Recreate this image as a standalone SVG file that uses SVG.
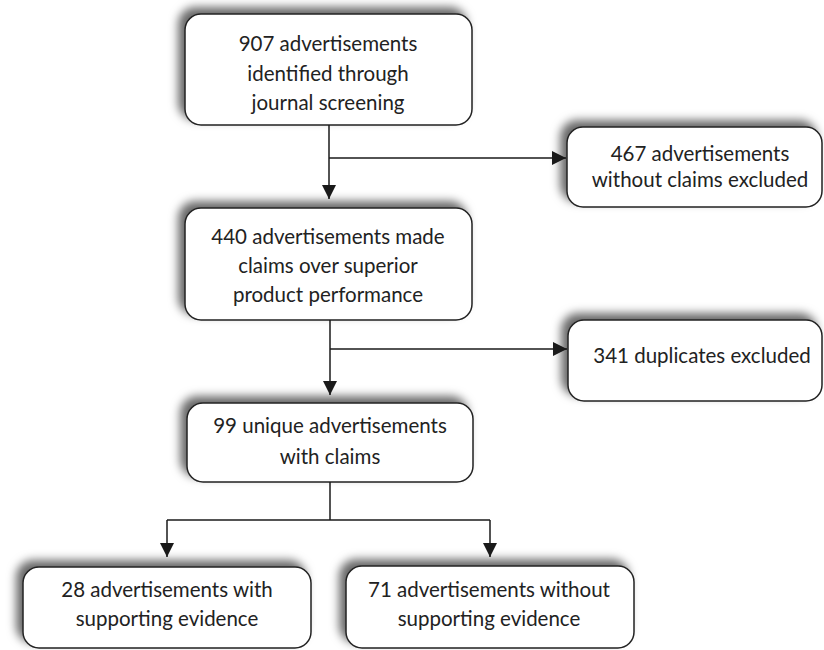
<svg xmlns="http://www.w3.org/2000/svg" width="824" height="650" viewBox="0 0 824 650">
<defs>
<filter id="sh" x="-20%" y="-30%" width="140%" height="160%">
<feDropShadow dx="-6" dy="-6" stdDeviation="5" flood-color="#000" flood-opacity="0.6"/>
</filter>
<marker id="ah" viewBox="0 0 14 14" refX="14" refY="7" markerWidth="14" markerHeight="14" markerUnits="userSpaceOnUse" orient="auto">
<path d="M0,0 L14,7 L0,14 z" fill="#1a1a1a"/>
</marker>
</defs>
<style>
.box{fill:#fff;stroke:#222;stroke-width:1.5;filter:url(#sh)}
.t{font-family:Lato,"Open Sans","Liberation Sans",sans-serif;font-size:20.5px;fill:#222;text-anchor:middle}
.c{fill:none;stroke:#1a1a1a;stroke-width:1.5}
</style>
<rect width="824" height="650" fill="#fff"/>
<g id="n1"><rect class="box" x="185" y="14" width="287" height="111" rx="16"/>
<text class="t" x="328" y="51">907 advertisements</text>
<text class="t" x="328" y="81">identified through</text>
<text class="t" x="328" y="110">journal screening</text></g>
<g id="n2"><rect class="box" x="567" y="127" width="255" height="80" rx="16"/>
<text class="t" x="700" y="161">467 advertisements</text>
<text class="t" x="700" y="187">without claims excluded</text></g>
<g id="n3"><rect class="box" x="185" y="208" width="287" height="112" rx="16"/>
<text class="t" x="328" y="244">440 advertisements made</text>
<text class="t" x="328" y="273">claims over superior</text>
<text class="t" x="328" y="302">product performance</text></g>
<g id="n4"><rect class="box" x="568" y="320" width="254" height="81" rx="16"/>
<text class="t" x="702" y="363">341 duplicates excluded</text></g>
<g id="n5"><rect class="box" x="187" y="403" width="286" height="79" rx="16"/>
<text class="t" x="330" y="433">99 unique advertisements</text>
<text class="t" x="330" y="464">with claims</text></g>
<g id="n6"><rect class="box" x="23" y="567" width="288" height="81" rx="16"/>
<text class="t" x="167" y="597">28 advertisements with</text>
<text class="t" x="167" y="626">supporting evidence</text></g>
<g id="n7"><rect class="box" x="346" y="566" width="288" height="82" rx="16"/>
<text class="t" x="489" y="597">71 advertisements without</text>
<text class="t" x="489" y="626">supporting evidence</text></g>
<g id="connectors">
<path class="c" d="M329,125 V199" marker-end="url(#ah)"/>
<path class="c" d="M329,158 H566" marker-end="url(#ah)"/>
<path class="c" d="M330,320 V395" marker-end="url(#ah)"/>
<path class="c" d="M330,349 H567" marker-end="url(#ah)"/>
<path class="c" d="M330,482 V520"/>
<path class="c" d="M167,520 H490"/>
<path class="c" d="M167,520 V557" marker-end="url(#ah)"/>
<path class="c" d="M490,520 V557" marker-end="url(#ah)"/>
</g>
</svg>
